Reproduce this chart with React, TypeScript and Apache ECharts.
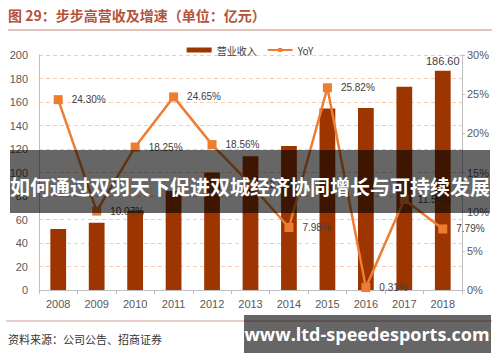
import React, { useEffect, useRef } from "react";
import * as echarts from "echarts";

const years = ["2008", "2009", "2010", "2011", "2012", "2013", "2014", "2015", "2016", "2017", "2018"];
const revenue = [51.9, 57.2, 67.6, 84.3, 100.0, 113.8, 122.6, 154.4, 154.9, 172.9, 186.6];
const yoy = [24.3, 10.07, 18.25, 24.65, 18.56, 13.5, 7.98, 25.82, 0.31, 11.54, 7.79];
const leftTicks = { min: 0, max: 200, interval: 20 };
const rightTicks = { min: 0, max: 30, interval: 5 };

const titleText = "图 29：步步高营收及增速（单位：亿元）";
const sourceText = "资料来源：公司公告、招商证券";
const overlayText = "如何通过双羽天下促进双城经济协同增长与可持续发展";
const watermarkText = "www.ltd-speedesports.com";

export default function App() {
  const ref = useRef<HTMLDivElement>(null);
  useEffect(() => {
    if (!ref.current) return;
    const chart = echarts.init(ref.current, null, { renderer: "svg" });
    const font = "'Liberation Sans', Arial, sans-serif";
    chart.setOption({
      animation: false,
      backgroundColor: "#ffffff",
      textStyle: { fontFamily: font },
      legend: {
        top: 40,
        left: "center",
        itemWidth: 25,
        itemHeight: 5,
        itemGap: 10,
        textStyle: { fontSize: 10, color: "#404040", fontFamily: "'Noto Sans CJK SC', sans-serif" },
        data: [
          { name: "营业收入", icon: "rect" },
          { name: "YoY" },
        ],
      },
      grid: { left: 39, right: 38, top: 55, bottom: 72 },
      xAxis: {
        type: "category",
        data: years,
        boundaryGap: true,
        axisLine: { lineStyle: { color: "#bfbfbf" } },
        axisTick: { show: true, length: 4, lineStyle: { color: "#bfbfbf" } },
        axisLabel: { color: "#595959", fontSize: 11, margin: 8, fontFamily: font },
      },
      yAxis: [
        {
          type: "value",
          min: leftTicks.min,
          max: leftTicks.max,
          interval: leftTicks.interval,
          axisLine: { show: true, lineStyle: { color: "#bfbfbf" } },
          axisTick: { show: false },
          axisLabel: { color: "#595959", fontSize: 11, margin: 11, fontFamily: font },
          splitLine: { show: true, lineStyle: { color: "#f6cdb0", type: [4, 3] } },
        },
        {
          type: "value",
          min: rightTicks.min,
          max: rightTicks.max,
          interval: rightTicks.interval,
          position: "right",
          axisLine: { show: true, lineStyle: { color: "#bfbfbf" } },
          axisTick: { show: true, length: 3, lineStyle: { color: "#bfbfbf" } },
          axisLabel: { color: "#595959", fontSize: 11, margin: 5, formatter: "{value}%", fontFamily: font },
          splitLine: { show: false },
        },
      ],
      series: [
        {
          name: "营业收入",
          type: "bar",
          data: revenue,
          barWidth: "41%",
          itemStyle: { color: "#9c3500" },
          label: {
            show: true,
            position: "top",
            color: "#404040",
            fontSize: 11,
            distance: 4,
            formatter: (p: any) => (p.dataIndex === revenue.length - 1 ? p.value.toFixed(2) : ""),
          },
        },
        {
          name: "YoY",
          type: "line",
          yAxisIndex: 1,
          data: yoy,
          symbol: "rect",
          symbolSize: 9,
          itemStyle: { color: "#ed7d31" },
          lineStyle: { color: "#ed7d31", width: 2.5 },
          label: {
            show: true,
            position: "right",
            distance: 9,
            color: "#404040",
            fontSize: 10,
            formatter: (p: any) => p.value.toFixed(2) + "%",
          },
        },
      ],
      graphic: [
        {
          type: "text",
          left: 8,
          top: 8,
          style: {
            text: titleText,
            fill: "#b4533a",
            font: "bold 14px 'Noto Sans CJK SC', sans-serif",
          },
        },
        {
          type: "line",
          shape: { x1: 8, y1: 30, x2: 492, y2: 30 },
          style: { stroke: "#c98a7a", lineWidth: 1 },
        },
        {
          type: "line",
          shape: { x1: 6, y1: 321, x2: 492, y2: 321 },
          style: { stroke: "#d09a90", lineWidth: 1 },
        },
        {
          type: "text",
          left: 8,
          top: 333,
          style: {
            text: sourceText,
            fill: "#333333",
            font: "11px 'Noto Sans CJK SC', serif",
          },
        },
        {
          type: "rect",
          shape: { x: 10, y: 150, width: 480, height: 63 },
          style: { fill: "rgba(0,0,0,0.6)" },
          z: 100,
        },
        {
          type: "text",
          x: 250,
          y: 186,
          z: 101,
          style: {
            text: overlayText,
            fill: "#ffffff",
            font: "bold 20px 'Noto Sans CJK SC', sans-serif",
            align: "center",
            verticalAlign: "middle",
          },
        },
        {
          type: "rect",
          shape: { x: 244, y: 315, width: 247, height: 38 },
          style: { fill: "rgba(0,0,0,0.6)" },
          z: 100,
        },
        {
          type: "text",
          x: 367,
          y: 334,
          z: 101,
          style: {
            text: watermarkText,
            fill: "#ffffff",
            font: "bold 18px 'Open Sans', 'DejaVu Sans', sans-serif",
            align: "center",
            verticalAlign: "middle",
          },
        },
      ],
    });
    return () => chart.dispose();
  }, []);
  return <div ref={ref} style={{ width: 500, height: 362, position: "absolute", left: 0, top: 0 }} />;
}
